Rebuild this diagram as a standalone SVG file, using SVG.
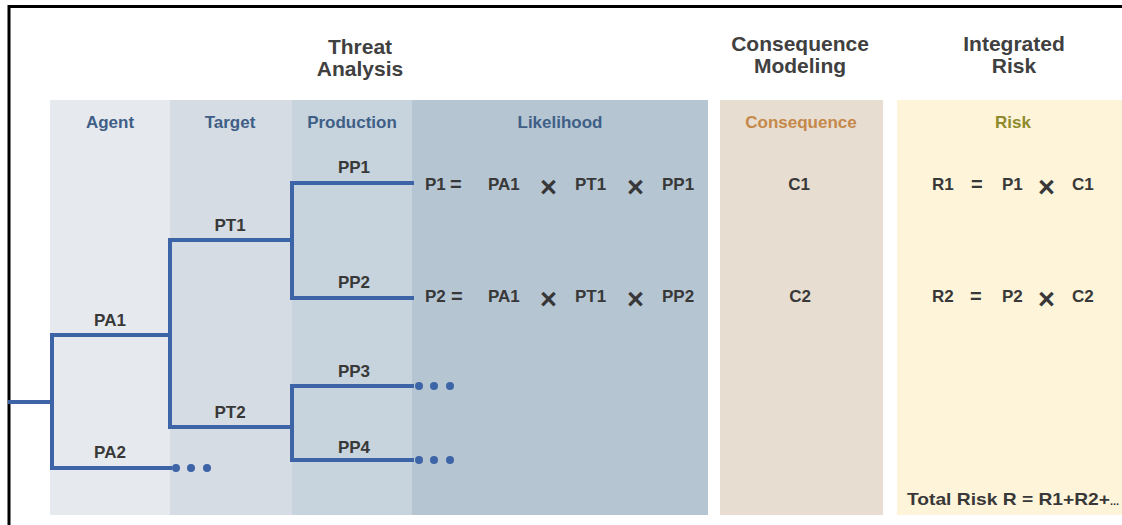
<svg xmlns="http://www.w3.org/2000/svg" width="1122" height="525" viewBox="0 0 1122 525">
  <style>
    text { font-family: "Liberation Sans", Arial, sans-serif; font-weight: bold; }
    .head { font-size: 21px; fill: #404040; text-anchor: middle; }
    .sub { font-size: 17px; text-anchor: middle; }
    .sub-blue { fill: #3f5f86; }
    .sub-cons { fill: #c4894a; }
    .sub-risk { fill: #8f8a2c; }
    .lbl { font-size: 17px; fill: #383838; text-anchor: middle; }
    .eq { font-size: 17px; fill: #383838; }
    .op { font-size: 29px; fill: #383838; }
    .eqs { font-size: 20px; fill: #383838; }
    .branch { fill: none; stroke: #3c64a6; stroke-width: 4; stroke-linecap: square; stroke-linejoin: miter; }
    .dot { fill: #3c64a6; }
  </style>

  <rect x="0" y="0" width="1122" height="525" fill="#ffffff"/>

  <!-- column panels -->
  <g id="panels">
    <rect x="50" y="100" width="120" height="415" fill="#e6e9ee"/>
    <rect x="170" y="100" width="122" height="415" fill="#d5dce3"/>
    <rect x="292" y="100" width="120" height="415" fill="#c7d4dd"/>
    <rect x="412" y="100" width="296" height="415" fill="#b5c5d2"/>
    <rect x="720" y="100" width="163" height="415" fill="#e8ddd1"/>
    <rect x="897" y="100" width="225" height="415" fill="#fdf4da"/>
  </g>

  <!-- frame -->
  <path d="M9,525 V6.5 H1122" fill="none" stroke="#000" stroke-width="3"/>

  <!-- section headings -->
  <g id="headings">
    <text class="head" x="360" y="54">Threat</text>
    <text class="head" x="360" y="76">Analysis</text>
    <text class="head" x="800" y="51">Consequence</text>
    <text class="head" x="800" y="73">Modeling</text>
    <text class="head" x="1014" y="51">Integrated</text>
    <text class="head" x="1014" y="73">Risk</text>
  </g>

  <!-- column headings -->
  <g id="columns">
    <text class="sub sub-blue" x="110" y="128">Agent</text>
    <text class="sub sub-blue" x="230" y="128">Target</text>
    <text class="sub sub-blue" x="352" y="128">Production</text>
    <text class="sub sub-blue" x="560" y="128">Likelihood</text>
    <text class="sub sub-cons" x="801" y="128">Consequence</text>
    <text class="sub sub-risk" x="1013" y="128">Risk</text>
  </g>

  <!-- event tree branches -->
  <g id="connectors">
    <path class="branch" d="M10,402 H52"/>
    <path class="branch" d="M170,335 H52 V468 H170"/>
    <path class="branch" d="M292,240 H170 V427 H292"/>
    <path class="branch" d="M412,183 H292 V298 H412"/>
    <path class="branch" d="M412,386 H292 V460 H412"/>
    <g id="more-pa2">
      <circle class="dot" cx="176" cy="468" r="4"/>
      <circle class="dot" cx="191" cy="468" r="4"/>
      <circle class="dot" cx="207" cy="468" r="4"/>
    </g>
    <g id="more-pp3">
      <circle class="dot" cx="419" cy="386" r="4"/>
      <circle class="dot" cx="434" cy="386" r="4"/>
      <circle class="dot" cx="450" cy="386" r="4"/>
    </g>
    <g id="more-pp4">
      <circle class="dot" cx="419" cy="460" r="4"/>
      <circle class="dot" cx="434" cy="460" r="4"/>
      <circle class="dot" cx="450" cy="460" r="4"/>
    </g>
  </g>

  <!-- branch nodes -->
  <g id="node-PA1"><text class="lbl" x="110" y="326">PA1</text></g>
  <g id="node-PA2"><text class="lbl" x="110" y="458">PA2</text></g>
  <g id="node-PT1"><text class="lbl" x="230" y="231">PT1</text></g>
  <g id="node-PT2"><text class="lbl" x="230" y="418">PT2</text></g>
  <g id="node-PP1"><text class="lbl" x="354" y="173">PP1</text></g>
  <g id="node-PP2"><text class="lbl" x="354" y="288">PP2</text></g>
  <g id="node-PP3"><text class="lbl" x="354" y="377">PP3</text></g>
  <g id="node-PP4"><text class="lbl" x="354" y="453">PP4</text></g>

  <!-- likelihood equations -->
  <g id="likelihood-1">
    <text class="eq" x="425" y="190">P1</text>
    <text class="eqs" x="450" y="191">=</text>
    <text class="eq" x="488" y="190">PA1</text>
    <text class="op" x="540" y="197">×</text>
    <text class="eq" x="575" y="190">PT1</text>
    <text class="op" x="627" y="197">×</text>
    <text class="eq" x="662" y="190">PP1</text>
  </g>
  <g id="likelihood-2">
    <text class="eq" x="425" y="302">P2</text>
    <text class="eqs" x="451" y="303">=</text>
    <text class="eq" x="488" y="302">PA1</text>
    <text class="op" x="540" y="309">×</text>
    <text class="eq" x="575" y="302">PT1</text>
    <text class="op" x="627" y="309">×</text>
    <text class="eq" x="662" y="302">PP2</text>
  </g>

  <!-- consequences -->
  <g id="consequence-1"><text class="lbl" x="799" y="190">C1</text></g>
  <g id="consequence-2"><text class="lbl" x="800" y="302">C2</text></g>

  <!-- risk equations -->
  <g id="risk-1">
    <text class="eq" x="932" y="190">R1</text>
    <text class="eqs" x="971" y="191">=</text>
    <text class="eq" x="1002" y="190">P1</text>
    <text class="op" x="1038" y="197">×</text>
    <text class="eq" x="1072" y="190">C1</text>
  </g>
  <g id="risk-2">
    <text class="eq" x="932" y="302">R2</text>
    <text class="eqs" x="970" y="303">=</text>
    <text class="eq" x="1002" y="302">P2</text>
    <text class="op" x="1038" y="309">×</text>
    <text class="eq" x="1072" y="302">C2</text>
  </g>
  <g id="total-risk">
    <text class="eq" x="907" y="505" textLength="203" lengthAdjust="spacingAndGlyphs">Total Risk R = R1+R2+</text>
    <text style="font-size:11px; fill:#383838" x="1110" y="505">...</text>
  </g>
</svg>
